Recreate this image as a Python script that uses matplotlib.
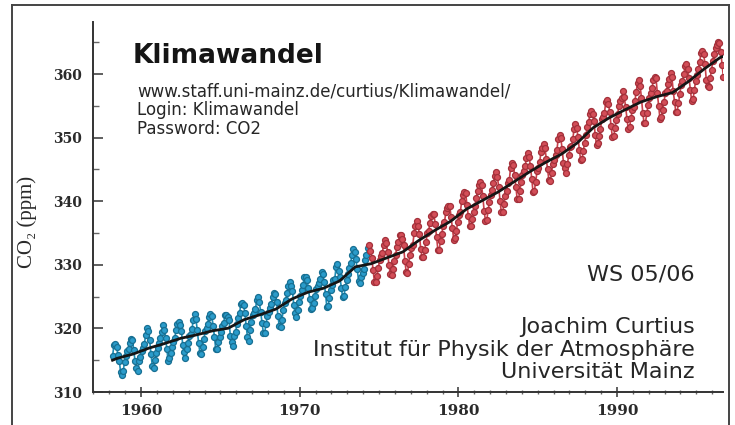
import numpy as np
import matplotlib.pyplot as plt
from matplotlib.lines import Line2D
from matplotlib.ticker import MultipleLocator

# Mauna Loa monthly CO2 (ppm), Scripps record Mar 1958 - Apr 1974
scripps_start = 1958 + 2.5 / 12
scripps_co2 = [
    315.71, 317.45, 317.50, 317.10, 315.86, 314.93, 313.20, 312.66, 313.33, 314.67,
    315.62, 316.38, 316.71, 317.72, 318.29, 318.15, 316.54, 314.80, 313.84, 313.26, 314.80, 315.58,
    316.43, 316.97, 317.58, 319.02, 320.03, 319.59, 318.18, 315.91, 314.16, 313.83, 315.00, 316.19,
    316.93, 317.70, 318.54, 319.48, 320.58, 319.77, 318.57, 316.79, 314.80, 315.38, 316.10, 317.01,
    317.94, 318.56, 319.68, 320.63, 321.01, 320.55, 319.58, 317.40, 316.26, 315.42, 316.69, 317.69,
    318.74, 319.08, 319.86, 321.39, 322.25, 321.47, 319.74, 317.77, 316.21, 315.99, 317.12, 318.31,
    319.57, 320.07, 320.73, 321.77, 322.25, 321.89, 320.44, 318.70, 316.70, 316.79, 317.79, 318.71,
    319.44, 320.44, 320.89, 322.13, 322.16, 321.87, 321.39, 318.81, 317.81, 317.30, 318.87, 319.42,
    320.62, 321.59, 322.39, 323.87, 324.01, 323.75, 322.39, 320.37, 318.64, 318.10, 319.79, 321.08,
    322.07, 322.50, 323.04, 324.42, 325.00, 324.09, 322.55, 320.92, 319.31, 319.31, 320.72, 321.96,
    322.57, 323.15, 323.89, 325.02, 325.57, 325.36, 324.14, 322.03, 320.41, 320.25, 321.31, 322.84,
    324.00, 324.42, 325.64, 326.66, 327.38, 326.70, 325.89, 323.67, 322.38, 321.78, 322.85, 324.11,
    325.03, 325.99, 326.87, 328.13, 328.07, 327.66, 326.35, 324.69, 323.10, 323.16, 323.98, 325.13,
    326.17, 326.68, 327.18, 327.78, 328.92, 328.57, 327.34, 325.46, 323.36, 323.57, 324.80, 326.01,
    326.77, 327.63, 327.75, 329.72, 330.07, 329.09, 328.05, 326.32, 324.93, 325.06, 326.50, 327.55,
    328.54, 329.56, 330.30, 331.50, 332.48, 332.07, 330.87, 329.31, 327.51, 327.18, 328.16, 328.64,
    329.35, 330.71, 331.48, 332.65,
]

# NOAA record May 1974 - Sep 1996
noaa_start = 1974 + 4.5 / 12
noaa_co2 = [
    333.20, 332.16, 331.07, 329.12, 327.32, 327.28, 328.30, 329.58,
    330.73, 331.46, 331.90, 333.17, 333.94, 333.45, 331.97, 329.95, 328.50, 328.34, 329.37, 330.58,
    331.59, 332.75, 333.52, 334.64, 334.77, 334.00, 333.06, 330.68, 328.95, 328.75, 330.15, 331.62,
    332.66, 333.13, 334.95, 336.13, 336.93, 336.17, 334.88, 332.56, 331.29, 331.27, 332.41, 333.60,
    334.95, 335.25, 336.66, 337.69, 338.03, 338.01, 336.41, 334.41, 332.37, 332.41, 333.75, 334.90,
    336.14, 336.69, 338.27, 338.96, 339.21, 339.26, 337.54, 335.75, 333.98, 334.19, 335.31, 336.81,
    337.90, 338.34, 340.01, 340.93, 341.48, 341.33, 339.40, 337.70, 336.19, 336.15, 337.27, 338.32,
    339.29, 340.55, 341.61, 342.53, 343.03, 342.54, 340.78, 338.44, 336.95, 337.08, 338.58, 339.88,
    340.96, 341.73, 342.81, 343.97, 344.63, 343.79, 342.32, 340.09, 338.28, 338.29, 339.60, 340.90,
    341.68, 342.90, 343.33, 345.25, 346.03, 345.63, 344.19, 342.27, 340.35, 340.38, 341.59, 343.05,
    344.10, 344.79, 345.52, 346.84, 347.63, 346.98, 345.53, 343.55, 341.40, 341.67, 343.10, 344.70,
    345.21, 346.16, 347.74, 348.33, 349.06, 348.38, 346.72, 345.02, 343.27, 343.13, 344.49, 345.88,
    346.56, 347.28, 348.01, 349.77, 350.38, 349.93, 348.16, 346.08, 345.22, 344.51, 345.93, 347.22,
    348.52, 348.73, 349.73, 351.31, 352.09, 351.53, 350.11, 348.08, 346.52, 346.59, 347.96, 349.16,
    350.39, 351.64, 352.40, 353.69, 354.21, 353.72, 352.69, 350.40, 348.92, 349.13, 350.20, 351.41,
    352.91, 353.27, 353.96, 355.64, 355.86, 355.37, 353.99, 351.81, 350.05, 350.25, 351.49, 352.85,
    353.80, 355.04, 355.73, 356.32, 357.32, 356.34, 354.84, 353.01, 351.31, 351.62, 353.07, 354.33,
    354.84, 355.73, 357.23, 358.66, 359.13, 358.13, 356.19, 353.85, 352.25, 352.35, 353.81, 355.12,
    356.25, 357.11, 357.86, 359.09, 359.59, 359.33, 357.01, 354.94, 352.96, 353.32, 354.32, 355.57,
    357.00, 357.31, 358.47, 359.27, 360.19, 359.52, 357.33, 355.64, 354.03, 354.12, 355.41, 356.91,
    358.24, 358.92, 359.99, 361.23, 361.65, 360.81, 359.38, 357.46, 355.73, 356.07, 357.53, 358.98,
    359.92, 360.86, 361.83, 363.30, 363.69, 363.19, 361.64, 359.12, 358.17, 357.99, 359.45, 360.68,
    362.07, 363.24, 364.17, 364.57, 365.13, 364.92, 363.55, 361.38, 359.54,
]

# smoothed trend (black line)
trend_year = [1958.2, 1958.5, 1959.5, 1960.5, 1961.5, 1962.5, 1963.5, 1964.5, 1965.5,
              1966.5, 1967.5, 1968.5, 1969.5, 1970.5, 1971.5, 1972.5, 1973.5, 1974.5,
              1975.5, 1976.5, 1977.5, 1978.5, 1979.5, 1980.5, 1981.5, 1982.5, 1983.5,
              1984.5, 1985.5, 1986.5, 1987.5, 1988.5, 1989.5, 1990.5, 1991.5, 1992.5,
              1993.5, 1994.5, 1995.5, 1996.5, 1996.7]
trend_co2 = [315.0, 315.3, 315.97, 316.91, 317.64, 318.45, 318.99, 319.62, 320.04,
             321.38, 322.16, 323.04, 324.62, 325.68, 326.32, 327.45, 329.68, 330.18,
             331.11, 332.04, 333.83, 335.40, 336.84, 338.75, 340.11, 341.45, 343.05,
             344.65, 346.12, 347.42, 349.19, 351.57, 353.12, 354.39, 355.61, 356.45,
             357.10, 358.83, 360.82, 362.61, 362.8]

W, H = 735, 425
fig = plt.figure(figsize=(W / 100, H / 100), dpi=100)
ax = fig.add_axes([93 / W, 1 - 392 / H, 630 / W, 370 / H])

t_scripps = scripps_start + np.arange(len(scripps_co2)) / 12
t_noaa = noaa_start + np.arange(len(noaa_co2)) / 12

ax.plot(t_scripps, scripps_co2, color="#1f8db5", lw=1.2, marker="o", ms=4.3,
        mfc="#2b9ccb", mec="#176f92", mew=0.9)
ax.plot(t_noaa, noaa_co2, color="#c8404a", lw=1.2, marker="o", ms=4.3,
        mfc="#d34e58", mec="#a3303a", mew=0.9)
ax.plot(trend_year, trend_co2, color="#151515", lw=2.0)

ax.set_xlim(1956.97, 1996.68)
ax.set_ylim(310, 368.2)
ax.spines["top"].set_visible(False)
ax.spines["right"].set_visible(False)
for s in ("left", "bottom"):
    ax.spines[s].set_linewidth(1.4)
    ax.spines[s].set_color("#333333")

ax.xaxis.set_major_locator(MultipleLocator(10))
ax.xaxis.set_minor_locator(MultipleLocator(1))
ax.yaxis.set_major_locator(MultipleLocator(10))
ax.yaxis.set_minor_locator(MultipleLocator(5))
ax.tick_params(axis="y", which="major", direction="in", length=7.5, width=1.2, color="#444444", pad=8)
ax.tick_params(axis="y", which="minor", direction="in", length=4.5, width=1.0, color="#666666")
ax.tick_params(axis="x", which="major", direction="inout", length=7, width=1.2, color="#444444", pad=5)
ax.tick_params(axis="x", which="minor", direction="inout", length=3.5, width=1.0, color="#666666")
for lab in ax.get_xticklabels() + ax.get_yticklabels():
    lab.set_fontfamily("DejaVu Serif")
    lab.set_fontweight("bold")
    lab.set_color("#2a2a2a")
for lab in ax.get_xticklabels():
    lab.set_fontsize(11)
for lab in ax.get_yticklabels():
    lab.set_fontsize(10)

fig.text(27 / W, 1 - 222 / H, "CO\u2082 (ppm)", rotation=90, ha="center", va="center",
         fontsize=15, family=["Liberation Serif", "DejaVu Serif"], color="#2a2a2a")


def px(x, y):
    return x / W, 1 - y / H


fig.text(*px(133, 63), "Klimawandel", fontsize=19, fontweight="bold", va="baseline", color="#151515")
fig.text(*px(137, 96), "www.staff.uni-mainz.de/curtius/Klimawandel/", fontsize=12, va="baseline", color="#262626")
fig.text(*px(137, 115), "Login: Klimawandel", fontsize=12, va="baseline", color="#262626")
fig.text(*px(137, 134), "Password: CO2", fontsize=12, va="baseline", color="#262626")

fig.text(*px(695, 281), "WS 05/06", fontsize=16, ha="right", va="baseline", color="#262626")
fig.text(*px(695, 333), "Joachim Curtius", fontsize=16, ha="right", va="baseline", color="#262626")
fig.text(*px(695, 356), "Institut für Physik der Atmosphäre", fontsize=16, ha="right", va="baseline", color="#262626")
fig.text(*px(695, 378), "Universität Mainz", fontsize=16, ha="right", va="baseline", color="#262626")

# outer frame of the slide
frame = dict(color="#444444", lw=1.4, transform=fig.transFigure)
fig.add_artist(Line2D([12 / W, 12 / W], [0, 1 - 5 / H], **frame))
fig.add_artist(Line2D([12 / W, 729 / W], [1 - 5 / H, 1 - 5 / H], **frame))
fig.add_artist(Line2D([729 / W, 729 / W], [0, 1 - 5 / H], **frame))

fig.savefig("out.png", dpi=100, facecolor="white")
